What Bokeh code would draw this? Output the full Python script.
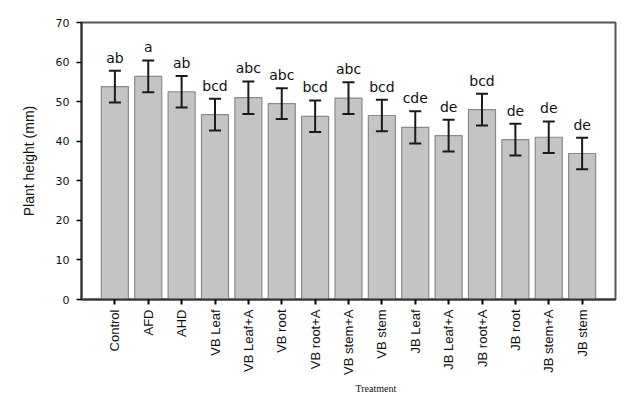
import math
from bokeh.plotting import figure
from bokeh.models import ColumnDataSource, Range1d, FixedTicker, Whisker, TeeHead, Title
from bokeh.core.properties import value
from bokeh.embed import file_html
from bokeh.resources import INLINE

categories = ["Control", "AFD", "AHD", "VB Leaf", "VB Leaf+A", "VB root", "VB root+A",
              "VB stem+A", "VB stem", "JB Leaf", "JB Leaf+A", "JB root+A", "JB root",
              "JB stem+A", "JB stem"]
heights = [53.8, 56.4, 52.5, 46.7, 51.0, 49.5, 46.3, 50.9, 46.5, 43.5, 41.4, 48.0, 40.4, 41.0, 36.9]
errors = [4.0, 4.0, 4.0, 4.0, 4.1, 3.9, 4.0, 4.0, 4.0, 4.1, 4.0, 4.0, 4.0, 4.0, 4.0]
letters = ["ab", "a", "ab", "bcd", "abc", "abc", "bcd", "abc", "bcd", "cde", "de", "bcd", "de", "de", "de"]
y_ticks = [0, 10, 20, 30, 40, 50, 60, 70]

xs = list(range(len(categories)))
src = ColumnDataSource(dict(
    x=xs,
    top=heights,
    upper=[h + e for h, e in zip(heights, errors)],
    lower=[h - e for h, e in zip(heights, errors)],
    lab=letters,
))

p = figure(width=626, height=397, output_backend="svg", toolbar_location=None,
           x_range=Range1d(-1, 15), y_range=Range1d(0, 70),
           min_border_left=81, min_border_top=22, min_border_right=11, min_border_bottom=98)
p.xgrid.visible = False
p.ygrid.visible = False
p.outline_line_color = "#555555"
p.outline_line_width = 2
p.background_fill_color = "white"

p.vbar(x="x", top="top", bottom=0, width=0.81, source=src,
       fill_color="#c4c4c4", line_color="#8a8a8a", line_width=1.2)

w = Whisker(base="x", upper="upper", lower="lower", source=src, level="overlay",
            line_color="#1a1a1a", line_width=2,
            upper_head=TeeHead(size=12, line_color="#1a1a1a", line_width=2),
            lower_head=TeeHead(size=12, line_color="#1a1a1a", line_width=2))
p.add_layout(w)

p.text(x="x", y="upper", text="lab", source=src, text_align="center",
       text_baseline="bottom", y_offset=-5, text_font=value("DejaVu Sans"),
       text_font_size="14px", text_color="#111111")

# axes
p.xaxis.ticker = FixedTicker(ticks=xs)
p.xaxis.major_label_overrides = {i: c for i, c in enumerate(categories)}
p.xaxis.major_label_orientation = math.pi / 2
p.xaxis.major_label_text_font = "Liberation Sans"
p.xaxis.major_label_text_font_size = "13px"
p.xaxis.major_label_text_color = "#111111"
p.xaxis.major_label_standoff = 5
p.xaxis.minor_tick_line_color = None
p.xaxis.major_tick_in = 0
p.xaxis.major_tick_out = 5
p.xaxis.major_tick_line_width = 2
p.xaxis.axis_line_width = 2
p.xaxis.axis_line_color = "#333333"

p.yaxis.ticker = FixedTicker(ticks=y_ticks)
p.yaxis.major_label_text_font = "DejaVu Sans"
p.yaxis.major_label_text_font_size = "11px"
p.yaxis.major_label_text_color = "#111111"
p.yaxis.major_label_standoff = 7
p.yaxis.minor_tick_line_color = None
p.yaxis.major_tick_in = 0
p.yaxis.major_tick_out = 5
p.yaxis.major_tick_line_width = 1.5
p.yaxis.axis_line_width = 2
p.yaxis.axis_line_color = "#333333"
p.yaxis.axis_label = "Plant height (mm)"
p.yaxis.axis_label_text_font = "Liberation Sans"
p.yaxis.axis_label_text_font_size = "14px"
p.yaxis.axis_label_text_font_style = "normal"
p.yaxis.axis_label_text_color = "#111111"
p.yaxis.axis_label_standoff = 16

p.add_layout(Title(text="Treatment", text_font="Liberation Serif", text_font_size="10px",
                   text_font_style="normal", text_color="#111111", align="left",
                   offset=274, standoff=6), "below")

open("out.html", "w").write(file_html(p, INLINE))
